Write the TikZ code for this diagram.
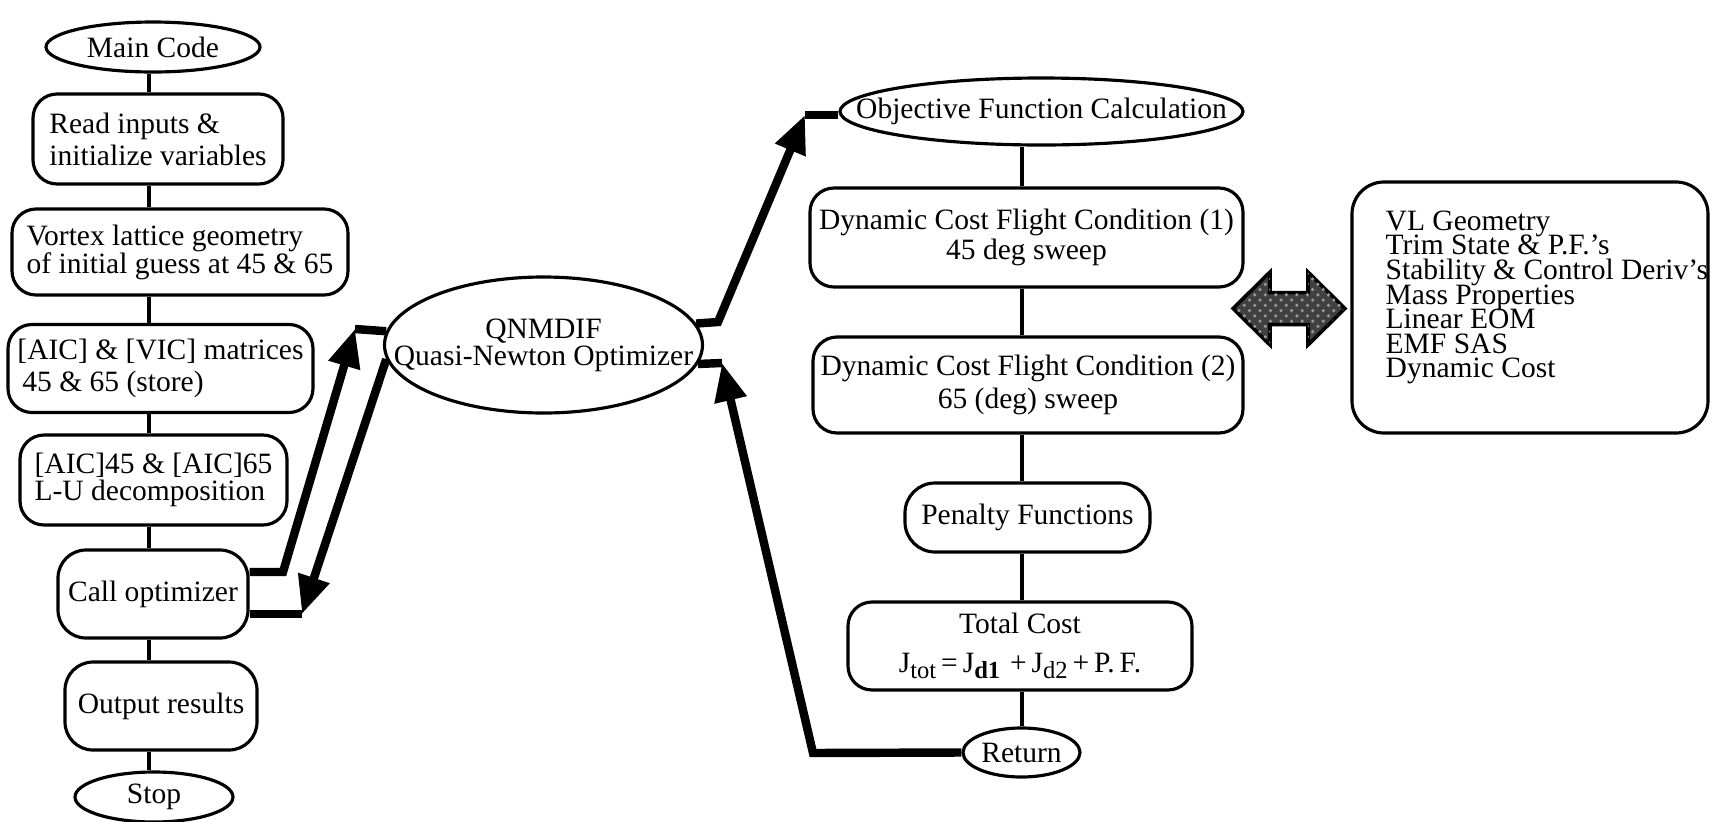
\documentclass[tikz,border=0pt]{standalone}
\usepackage{fontspec}
\setmainfont{Liberation Serif}
\usetikzlibrary{shapes.geometric,arrows.meta,patterns}

\tikzset{
  box/.style={draw,line width=0.9pt,rounded corners=0.24cm,inner sep=0pt,align=center},
  oval/.style={draw,ellipse,line width=0.9pt,inner sep=-1cm,align=center},
  link/.style={line width=1.1pt},
  bar/.style={line width=2.4pt},
  flow/.style={bar,-{Triangle[length=0.38cm,width=0.31cm]}}
}
\newcommand{\lowidx}[1]{\raisebox{-0.5ex}{\fontsize{7}{7}\selectfont #1}}
\newcommand{\tightlist}{\fontsize{8.4}{7}\selectfont\lineskiplimit=-5pt\relax}

\begin{document}
\begin{tikzpicture}[x=1cm,y=-1cm,font=\fontsize{8.4}{9}\selectfont]
  \useasboundingbox (0,0) rectangle (17.16,8.22);

  % main program
  \node[oval,minimum width=2.14cm,minimum height=0.50cm] (main) at (1.53,0.47) {Main Code};
  \node[box,align=left,minimum width=2.50cm,minimum height=0.90cm,font=\fontsize{8.4}{9.1}\selectfont] (read) at (1.58,1.39) {Read inputs \&\\initialize variables};
  \node[box,align=left,minimum width=3.36cm,minimum height=0.86cm,font=\fontsize{8.4}{8}\selectfont] (vortex) at (1.80,2.52) {Vortex lattice geometry\\of initial guess at 45 \& 65};
  \node[box,align=left,minimum width=3.05cm,minimum height=0.88cm,font=\fontsize{8.4}{9.1}\selectfont] (aicvic) at (1.605,3.685) {[AIC] \& [VIC] matrices\\\hspace*{0.05cm}45 \& 65 (store)};
  \node[box,align=left,minimum width=2.67cm,minimum height=0.90cm,font=\fontsize{8.4}{7.7}\selectfont] (aiclu) at (1.535,4.80) {[AIC]45 \& [AIC]65\\L-U decomposition};
  \node[box,rounded corners=0.28cm,minimum width=1.90cm,minimum height=0.88cm] (call) at (1.53,5.94) {Call optimizer};
  \node[box,rounded corners=0.28cm,minimum width=1.92cm,minimum height=0.88cm] (output) at (1.61,7.06) {Output results};
  \node[oval,minimum width=1.58cm,minimum height=0.50cm] (stop) at (1.54,7.97) {Stop};

  \coordinate (spine) at (1.49,0);
  \foreach \a/\b in {main/read,read/vortex,vortex/aicvic,aicvic/aiclu,aiclu/call,call/output,output/stop}
    \draw[link] (\a.south -| spine) -- (\b.north -| spine);

  % optimizer
  \node[oval,minimum width=3.18cm,minimum height=1.36cm,font=\fontsize{8.4}{7.7}\selectfont] (qn) at (5.435,3.45) {QNMDIF\\Quasi-Newton Optimizer};

  % objective function
  \node[oval,minimum width=4.03cm,minimum height=0.67cm] (obj) at (10.415,1.115) {Objective Function Calculation};
  \node[box,minimum width=4.33cm,minimum height=0.99cm,font=\fontsize{8.4}{8.5}\selectfont] (dyn1) at (10.265,2.375) {Dynamic Cost Flight Condition (1)\\45 deg sweep};
  \node[box,minimum width=4.30cm,minimum height=0.96cm,font=\fontsize{8.4}{9.4}\selectfont] (dyn2) at (10.28,3.85) {Dynamic Cost Flight Condition (2)\\65 (deg) sweep};
  \node[box,rounded corners=0.3cm,minimum width=2.45cm,minimum height=0.69cm] (penalty) at (10.275,5.175) {Penalty Functions};
  \node[box,minimum width=3.44cm,minimum height=0.88cm] (total) at (10.20,6.46) {Total Cost\\[2pt]J\lowidx{tot}\,=\,J\lowidx{\textbf{d1}}\,\,+\,J\lowidx{d2}\,+\,P.\,F.};
  \node[oval,minimum width=1.17cm,minimum height=0.49cm] (ret) at (10.215,7.525) {Return};

  \coordinate (spine2) at (10.22,0);
  \foreach \a/\b in {obj/dyn1,dyn1/dyn2,dyn2/penalty,penalty/total,total/ret}
    \draw[link] (\a.south -| spine2) -- (\b.north -| spine2);

  % subroutines
  \node[box,rounded corners=0.32cm,minimum width=3.56cm,minimum height=2.51cm] (vl) at (15.30,3.075) {};
  \node[anchor=north west,align=left,inner sep=0pt,font=\tightlist] (vltext) at (13.85,2.10)
    {VL Geometry\\Trim State \& P.F.'s\\Stability \& Control Deriv's\\Mass Properties\\Linear EOM\\EMF SAS\\Dynamic Cost};

  % block arrow between the cost boxes and the subroutines
  \draw[line width=1pt,fill=black!75,postaction={pattern=crosshatch dots,pattern color=black!40}]
    (12.33,3.085) -- (12.70,2.72) -- (12.70,2.925) -- (13.08,2.925) -- (13.08,2.72) -- (13.45,3.085)
    -- (13.08,3.45) -- (13.08,3.245) -- (12.70,3.245) -- (12.70,3.45) -- cycle;

  % calls and returns
  \coordinate (c1) at (2.83,5.72);
  \coordinate (c2) at (3.55,3.29);
  \coordinate (c3) at (3.85,3.63);
  \coordinate (c4) at (3.02,6.14);
  \coordinate (c5) at (7.18,3.22);
  \coordinate (c6) at (8.05,1.15);
  \coordinate (c7) at (8.13,7.53);
  \coordinate (c8) at (7.22,3.63);

  \draw[flow] (call.east |- c1) -- (c1) -- (c2);
  \draw[bar] (c2) -- (qn.175);
  \draw[flow] (qn.187) -- (c3) -- (c4);
  \draw[bar] (c4) -- (call.east |- c4);
  \draw[flow] (qn.8) -- (c5) -- (c6);
  \draw[bar] (c6) -- (obj.west |- c6);
  \draw[flow] (ret.west) -- (c7) -- (c8);
  \draw[bar] (c8) -- (qn.-7);
\end{tikzpicture}
\end{document}
